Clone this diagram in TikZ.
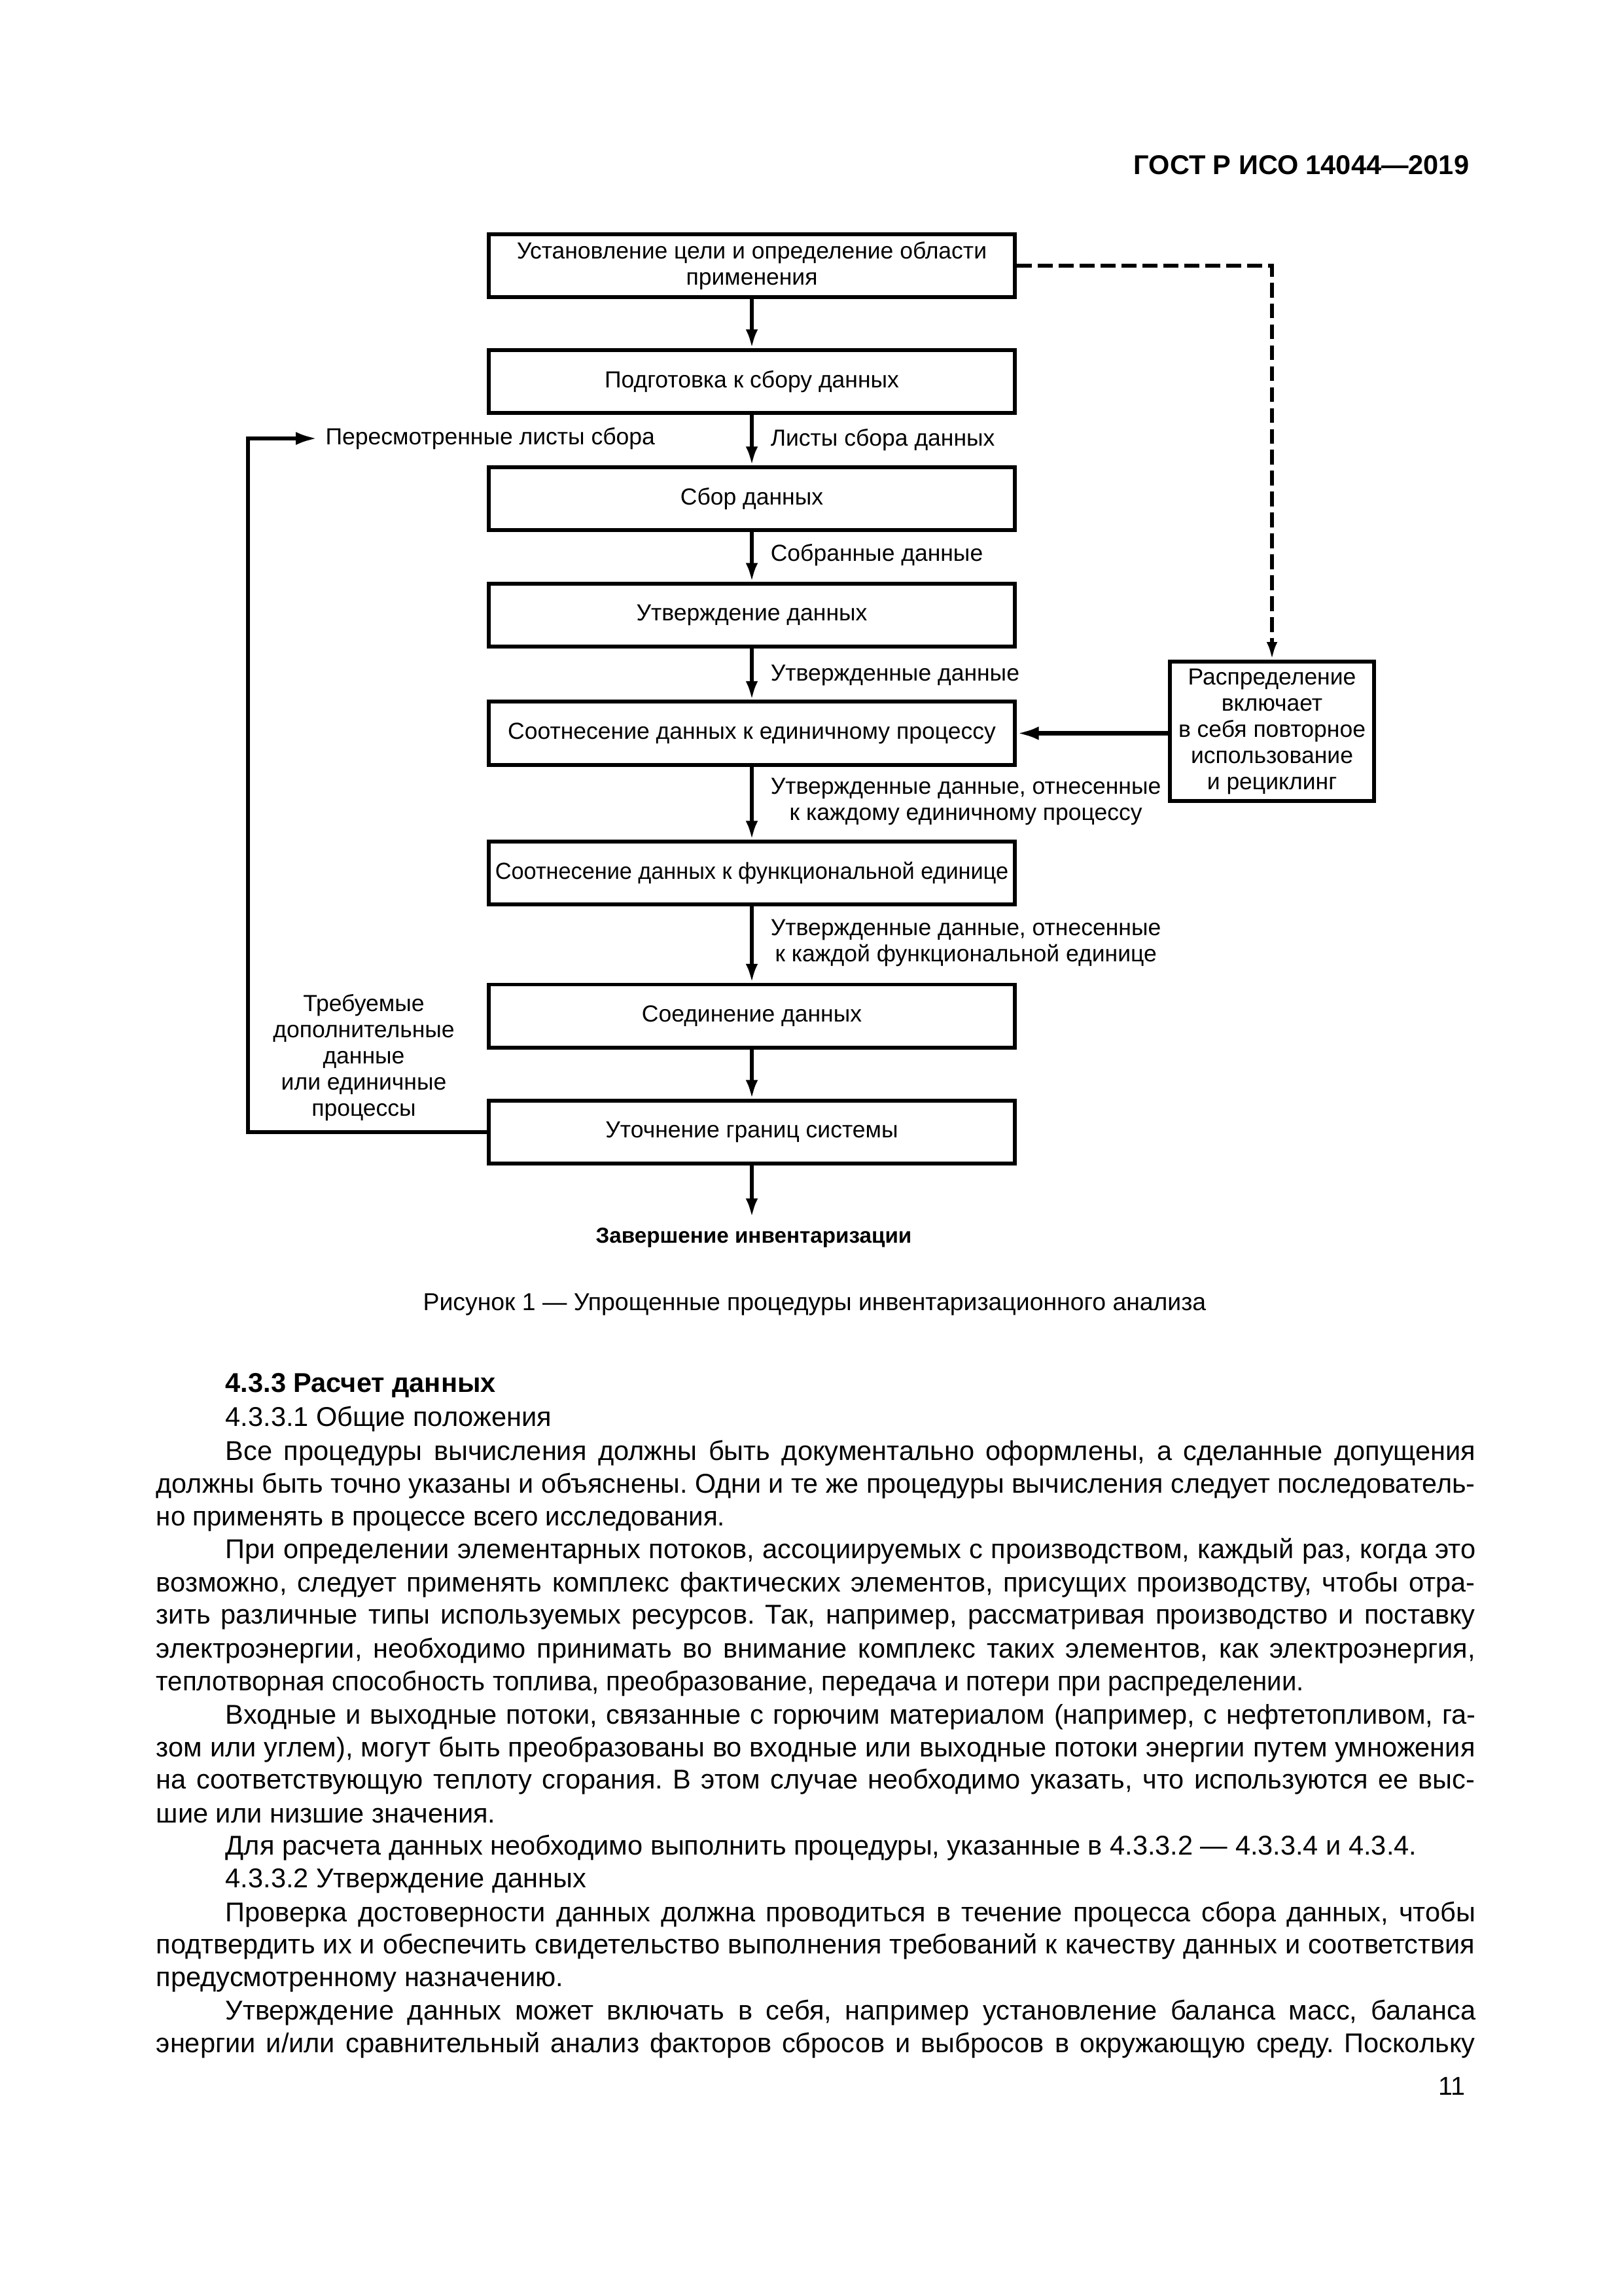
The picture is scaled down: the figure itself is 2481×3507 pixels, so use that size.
\documentclass[tikz,border=0pt]{standalone}
\usepackage{fontspec}
\usepackage{graphicx}
\setmainfont{Liberation Sans}
\usetikzlibrary{arrows.meta}
\frenchspacing
\newcommand{\bodyf}{\fontsize{10}{12}\selectfont}
\newcommand{\diagf}{\fontsize{8.55}{9.63}\selectfont}
\newcommand{\fullw}{170.6mm}
\newcommand{\indw}{161.7mm}
\newsavebox{\linebox}
\newcommand{\jl}[2]{\sbox{\linebox}{#2}\ifdim\wd\linebox>#1\relax\resizebox{#1}{\height}{\usebox{\linebox}}\else\makebox[#1][s]{#2}\fi}
\newcommand{\cond}[1]{\scalebox{0.968}[1]{#1}}
\begin{document}
\begin{tikzpicture}[x=0.084643mm, y=-0.084643mm,
  box/.style={draw, line width=1.44pt, minimum width=68.05mm, minimum height=8.13mm, align=center, inner sep=0pt, font=\diagf},
  lbl/.style={inner sep=0pt, align=center, font=\diagf},
  arr/.style={line width=1.44pt, -{Latex[length=6.9pt, width=4.5pt]}},
  thickarr/.style={line width=1.8pt, -{Latex[length=8.1pt, width=5pt]}},
  looparr/.style={line width=1.44pt, -{Latex[length=7.9pt, width=4.8pt]}},
  dasharr/.style={line width=1.44pt, dash pattern=on 5.5pt off 2.2pt, -{Latex[length=6.5pt, width=4pt]}},
  body/.style={inner sep=0pt, anchor=mid west, font=\bodyf},
]
\useasboundingbox (0,0) rectangle (2481,3507);
\fill[white] (0,0) rectangle (2481,3507);

% header
\node[inner sep=0pt, anchor=mid east, font=\fontsize{10}{12}\selectfont\bfseries] (hdr) at (2246,256) {ГОСТ Р ИСО 14044—2019};

% main boxes
\node[box] (b1) at (1149,406) {Установление цели и определение области\\применения};
\node[box] (b2) at (1149,583) {Подготовка к сбору данных};
\node[box] (b3) at (1149,762) {Сбор данных};
\node[box] (b4) at (1149,940) {Утверждение данных};
\node[box] (b5) at (1149,1120.5) {Соотнесение данных к единичному процессу};
\node[box] (b6) at (1149,1334) {\scalebox{0.965}[1]{Соотнесение данных к функциональной единице}};
\node[box] (b7) at (1149,1552.5) {Соединение данных};
\node[box] (b8) at (1149,1730) {Уточнение границ системы};

% right box
\node[draw, line width=1.44pt, minimum width=26.41mm, minimum height=18.03mm, inner sep=0pt, align=center, font=\diagf] (dist) at (1944,1117.5) {Распределение\\включает\\в себя повторное\\использование\\и рециклинг};

% labels
\node[lbl, anchor=west] (l1) at (1177,672) {Листы сбора данных};
\node[lbl, anchor=west] (l2) at (1177,848) {Собранные данные};
\node[lbl, anchor=west] (l3) at (1177,1032) {Утвержденные данные};
\node[lbl, anchor=west] (l4) at (1177,1225) {Утвержденные данные, отнесенные\\к каждому единичному процессу};
\node[lbl, anchor=west] (l5) at (1177,1441) {Утвержденные данные, отнесенные\\к каждой функциональной единице};
\node[lbl, anchor=west, inner xsep=1mm] (rev) at (485,670) {Пересмотренные листы сбора};
\node[lbl] (req) at (556,1616) {Требуемые\\дополнительные\\данные\\или единичные\\процессы};
\node[lbl, font=\fontsize{8}{9.6}\selectfont\bfseries] (fin) at (1152,1891) {Завершение инвентаризации};
\coordinate (end) at (1149,1860);

% caption
\node[inner sep=0pt, font=\fontsize{9}{11}\selectfont] (cap) at (1245,1993) {Рисунок 1 — Упрощенные процедуры инвентаризационного анализа};

% connectors
\draw[arr] (b1) -- (b2);
\draw[arr] (b2) -- (b3);
\draw[arr] (b3) -- (b4);
\draw[arr] (b4) -- (b5);
\draw[arr] (b5) -- (b6);
\draw[arr] (b6) -- (b7);
\draw[arr] (b7) -- (b8);
\draw[arr] (b8) -- (end);
\draw[dasharr] (b1.east) -| (dist.north);
\draw[thickarr] (dist.west |- b5.east) -- (b5.east);
\coordinate (lb) at (379,1730);
\coordinate (lt) at (379,670);
\draw[looparr] (b8.west) -- (lb) -- (lt) -- (rev.west);

% body text
\node[body, font=\bodyf\bfseries] (t0) at (344,2117) {4.3.3 Расчет данных};
\node[body] (t1) at (344,2169) {4.3.3.1 Общие положения};
\node[body] (t2) at (344,2221) {\jl{\indw}{Все процедуры вычисления должны быть документально оформлены, а сделанные допущения}};
\node[body] (t3) at (238,2270) {\jl{\fullw}{должны быть точно указаны и объяснены. Одни и те же процедуры вычисления следует последователь-}};
\node[body] (t4) at (238,2320) {\cond{но применять в процессе всего исследования.}};
\node[body] (t5) at (344,2371) {\jl{\indw}{При определении элементарных потоков, ассоциируемых с производством, каждый раз, когда это}};
\node[body] (t6) at (238,2421) {\jl{\fullw}{возможно, следует применять комплекс фактических элементов, присущих производству, чтобы отра-}};
\node[body] (t7) at (238,2470) {\jl{\fullw}{зить различные типы используемых ресурсов. Так, например, рассматривая производство и поставку}};
\node[body] (t8) at (238,2522) {\jl{\fullw}{электроэнергии, необходимо принимать во внимание комплекс таких элементов, как электроэнергия,}};
\node[body] (t9) at (238,2572) {\cond{теплотворная способность топлива, преобразование, передача и потери при распределении.}};
\node[body] (t10) at (344,2623) {\jl{\indw}{Входные и выходные потоки, связанные с горючим материалом (например, с нефтетопливом, га-}};
\node[body] (t11) at (238,2673) {\jl{\fullw}{зом или углем), могут быть преобразованы во входные или выходные потоки энергии путем умножения}};
\node[body] (t12) at (238,2722) {\jl{\fullw}{на соответствующую теплоту сгорания. В этом случае необходимо указать, что используются ее выс-}};
\node[body] (t13) at (238,2774) {шие или низшие значения.};
\node[body] (t14) at (344,2823) {Для расчета данных необходимо выполнить процедуры, указанные в 4.3.3.2 — 4.3.3.4 и 4.3.4.};
\node[body] (t15) at (344,2873) {4.3.3.2 Утверждение данных};
\node[body] (t16) at (344,2925) {\jl{\indw}{Проверка достоверности данных должна проводиться в течение процесса сбора данных, чтобы}};
\node[body] (t17) at (238,2974) {\jl{\fullw}{подтвердить их и обеспечить свидетельство выполнения требований к качеству данных и соответствия}};
\node[body] (t18) at (238,3024) {предусмотренному назначению.};
\node[body] (t19) at (344,3075) {\jl{\indw}{Утверждение данных может включать в себя, например установление баланса масс, баланса}};
\node[body] (t20) at (238,3125) {\jl{\fullw}{энергии и/или сравнительный анализ факторов сбросов и выбросов в окружающую среду. Поскольку}};
\node[inner sep=0pt, anchor=mid east, font=\fontsize{9.5}{11}\selectfont] (pg) at (2240,3190) {11};
\end{tikzpicture}
\end{document}
